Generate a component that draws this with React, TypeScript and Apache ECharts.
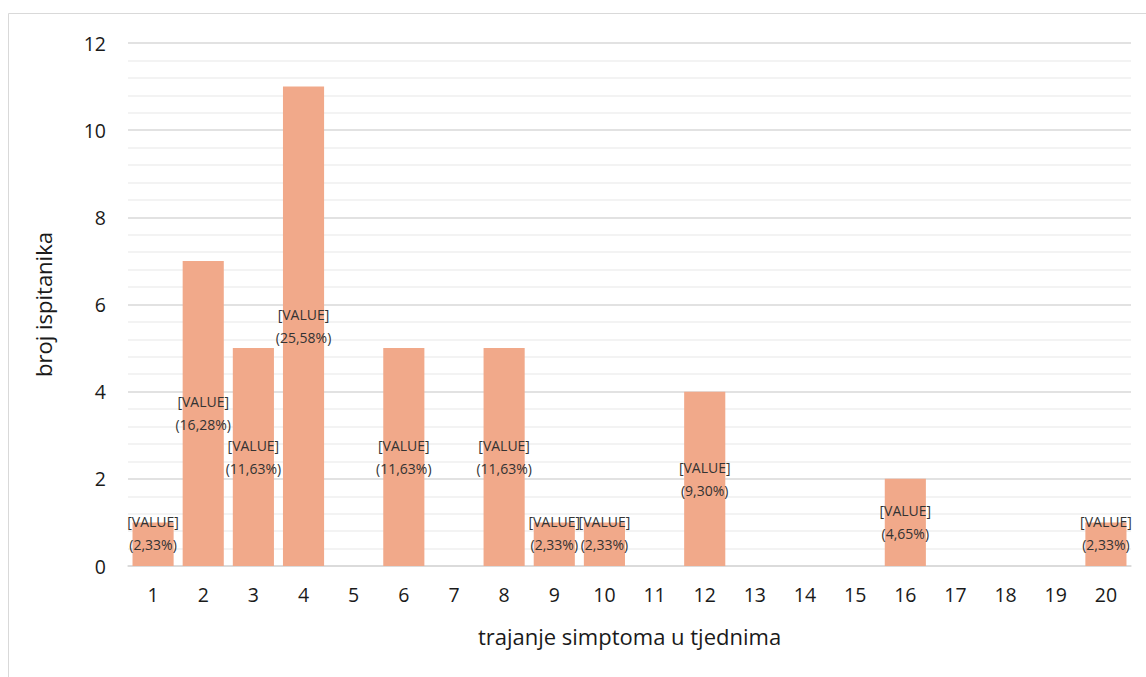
import React, { useEffect, useRef } from "react";
import * as echarts from "echarts";

const categories = ["1","2","3","4","5","6","7","8","9","10","11","12","13","14","15","16","17","18","19","20"];
const counts = [1, 7, 5, 11, 0, 5, 0, 5, 1, 1, 0, 4, 0, 0, 0, 2, 0, 0, 0, 1];
const yTicks = [0, 2, 4, 6, 8, 10, 12];
const xAxisTitle = "trajanje simptoma u tjednima";
const yAxisTitle = "broj ispitanika";

const FONT = "'Open Sans', 'Noto Sans', sans-serif";

export default function App() {
  const ref = useRef<HTMLDivElement>(null);
  useEffect(() => {
    document.body.style.margin = "0";
    const chart = echarts.init(ref.current!, null, { renderer: "svg" });
    const total = counts.reduce((a, b) => a + b, 0);
    const data = counts.map((v) => {
      if (v === 0) return { value: v, label: { show: false } };
      const pct = ((v / total) * 100).toFixed(2).replace(".", ",");
      return {
        value: v,
        label: {
          show: true,
          formatter: "[VALUE]\n(" + pct + "%)",
          offset: v === 1 ? [0, -11] : [0, 0],
        },
      };
    });
    chart.setOption({
      animation: false,
      backgroundColor: "#ffffff",
      graphic: [
        {
          type: "rect",
          shape: { x: 8.5, y: 13.5, width: 1150, height: 700 },
          style: { fill: "none", stroke: "#d9d9d9", lineWidth: 1 },
          silent: true,
        },
      ],
      grid: { left: 128, right: 15, top: 43, bottom: 111, containLabel: false },
      xAxis: {
        type: "category",
        data: categories,
        name: xAxisTitle,
        nameLocation: "middle",
        nameGap: 59,
        nameTextStyle: { fontFamily: FONT, fontSize: 22, color: "#1a1a1a" },
        axisLine: { show: true, lineStyle: { color: "#d9d9d9", width: 1.5 } },
        axisTick: { show: false },
        axisLabel: { fontFamily: FONT, fontSize: 19.5, color: "#1a1a1a", margin: 18 },
      },
      yAxis: {
        type: "value",
        min: yTicks[0],
        max: yTicks[yTicks.length - 1],
        interval: 2,
        name: yAxisTitle,
        nameLocation: "middle",
        nameGap: 74,
        nameTextStyle: { fontFamily: FONT, fontSize: 22, color: "#1a1a1a" },
        axisLine: { show: false },
        axisTick: { show: false },
        axisLabel: { fontFamily: FONT, fontSize: 19.5, color: "#1a1a1a", margin: 22 },
        splitLine: { show: true, lineStyle: { color: "#d9d9d9", width: 1.5 } },
        minorTick: { show: false, splitNumber: 5 },
        minorSplitLine: { show: true, lineStyle: { color: "#efefef", width: 1.5 } },
      },
      series: [
        {
          type: "bar",
          data,
          barCategoryGap: "18%",
          itemStyle: { color: "#F1A98A" },
          label: {
            show: true,
            position: "inside",
            fontFamily: FONT,
            fontSize: 14,
            lineHeight: 23,
            color: "#333333",
          },
        },
      ],
    });
    return () => chart.dispose();
  }, []);
  return <div ref={ref} style={{ width: 1146, height: 677 }} />;
}
